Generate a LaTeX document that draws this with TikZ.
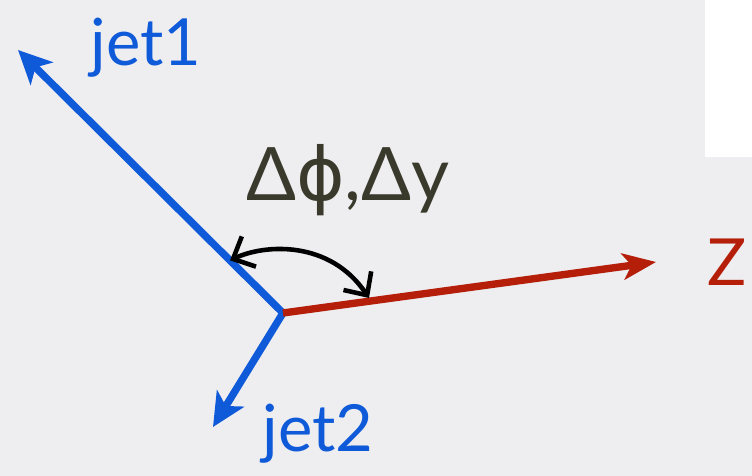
\documentclass[tikz,border=0pt]{standalone}
\usepackage{fontspec}
\setmainfont{Lato}
\newfontfamily\phifont{DejaVu Sans}
\usetikzlibrary{arrows.meta,calc}
\definecolor{bggray}{HTML}{EEEEF1}
\definecolor{jetblue}{HTML}{0F5AD8}
\definecolor{zred}{HTML}{B51E08}
\definecolor{labeldark}{HTML}{3A3A2C}
\tikzset{
  jetline/.style={line width=4.2pt, jetblue, -{Stealth[length=19pt, width=18pt, inset=5pt]}},
  zline/.style={line width=4.2pt, zred, -{Stealth[length=19pt, width=15pt, inset=5pt]}},
  anglearc/.style={line width=2.6pt, black, {Straight Barb[length=10pt, width=19pt]}-{Straight Barb[length=10pt, width=19pt]}},
  biglabel/.style={font=\fontsize{37}{42}\selectfont, inner sep=0pt}
}
\begin{document}
\begin{tikzpicture}[x=0.02cm, y=-0.02cm]
    \useasboundingbox (0,0) rectangle (752,476);
    \fill[bggray] (0,0) rectangle (752,476);
    \fill[white] (705,0) rectangle (752,157);

    % vertex and arrow ends
    \coordinate (o) at (283,313);
    \coordinate (j1) at (18,50);
    \coordinate (j2) at (213,427);
    \coordinate (zt) at (656,262);

    \draw[jetline] (o) -- (j1);
    \draw[jetline] (o) -- (j2);
    \draw[zline] (o) -- (zt);

    % labels
    \node[biglabel, jetblue] (jetone) at (146,48) {jet1};
    \node[biglabel, jetblue] (jettwo) at (318,434) {jet2};
    \node[biglabel, zred] (zlab) at (727,262) {Z};
    \node[biglabel, labeldark, font=\fontsize{42}{48}\selectfont] (dlab) at (348,180) {Δ{\phifont ϕ},Δy};

    % angle between jet1 and Z
    \coordinate (a1) at ($(o)!0.2!(j1)$);
    \coordinate (a2) at (369,298);
    \draw[anglearc] (a1) .. controls (265,244) and (330,240) .. (a2);
\end{tikzpicture}
\end{document}
